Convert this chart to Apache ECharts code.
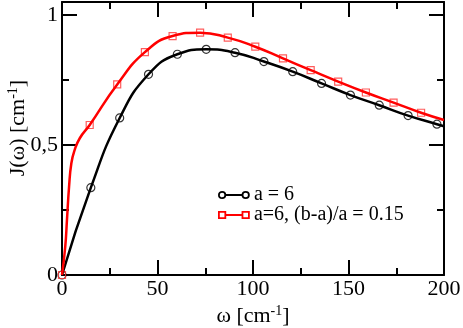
<!DOCTYPE html>
<html lang="en">
<head>
    <meta charset="UTF-8">
    <title>J(omega)</title>
    <script src="https://cdn.jsdelivr.net/npm/echarts@6/dist/echarts.min.js"></script>
    <style>
        html, body { margin: 0; padding: 0; background: #fff; }
        #main { width: 463px; height: 328px; }
    </style>
</head>
<body>
    <div id="main"></div>
<script>
    // x ticks
    var xTicks = [0, 50, 100, 150, 200];
    var yTicks = [0, 0.5, 1];

    // a = 6 : symbols
    var blackMarkW = [0, 15.1, 30.2, 45.3, 60.4, 75.5, 90.6, 105.7, 120.8, 135.9, 151, 166.1, 181.2, 196.3];
    var blackMarkJ = [0, 0.336, 0.604, 0.772, 0.849, 0.868, 0.855, 0.821, 0.782, 0.737, 0.692, 0.653, 0.613, 0.580];
    // a = 6 : line
    var blackLineW = [0, 15.1, 30.2, 45.3, 60.4, 75.5, 90.6, 105.7, 120.8, 135.9, 151, 166.1, 181.2, 196.3, 200];
    var blackLineJ = [0, 0.336, 0.604, 0.772, 0.849, 0.868, 0.855, 0.821, 0.782, 0.737, 0.692, 0.653, 0.613, 0.580, 0.572];

    // a=6, (b-a)/a = 0.15 : symbols
    var redMarkW = [0, 14.5, 28.9, 43.4, 57.9, 72.3, 86.8, 101.2, 115.7, 130.2, 144.6, 159.1, 173.6, 188.0];
    var redMarkJ = [0, 0.577, 0.733, 0.857, 0.919, 0.932, 0.913, 0.878, 0.833, 0.788, 0.744, 0.702, 0.663, 0.624];
    // line
    var redLineW = [0, 1.7, 2.6, 3.7, 4.9, 6.6, 9.3, 14.5, 28.9, 43.4, 57.9, 72.3, 86.8, 101.2, 115.7, 130.2, 144.6, 159.1, 173.6, 188.0, 200];
    var redLineJ = [0, 0.109, 0.212, 0.34, 0.43, 0.48, 0.526, 0.577, 0.733, 0.857, 0.919, 0.932, 0.913, 0.878, 0.833, 0.788, 0.744, 0.702, 0.663, 0.624, 0.596];

    var name1 = 'a = 6';
    var name2 = 'a=6, (b-a)/a = 0.15';
    var xTitle = 'ω [cm{sup|-1}]';
    var yTitle = 'J(ω) [cm{sup|-1}]';

    function pairs(xs, ys) {
        return xs.map(function (x, i) { return [x, ys[i]]; });
    }

    var font = 'Liberation Serif';
    var axCol = '#000';

    // frame axes: line + labels, no ticks
    function xAx(pos, labels) {
        return {
            type: 'value', position: pos, min: xTicks[0], max: xTicks[xTicks.length - 1], interval: 50,
            axisLine: { show: true, onZero: false, lineStyle: { color: axCol, width: 2 } },
            axisTick: { show: false },
            splitLine: { show: false },
            axisLabel: { show: labels, margin: 3, fontFamily: font, fontSize: 22, color: '#000' }
        };
    }
    function yAx(pos, labels) {
        return {
            type: 'value', position: pos, min: 0, max: 1.05, interval: 0.5,
            axisLine: { show: true, onZero: false, lineStyle: { color: axCol, width: 2 } },
            axisTick: { show: false },
            splitLine: { show: false },
            axisLabel: {
                show: labels, margin: 4, fontFamily: font, fontSize: 22, color: '#000',
                formatter: function (v) { return v > 1.001 ? ' ' : String(v).replace('.', ','); }
            }
        };
    }
    // tick-only axes moved into the plot; their outward ticks end on the frame
    function tickAx(pos, min, max, interval, len) {
        return {
            type: 'value', position: pos, offset: -len, min: min, max: max, interval: interval,
            axisLine: { show: false, onZero: false },
            axisTick: { show: true, inside: false, length: len, lineStyle: { color: axCol, width: 2 } },
            splitLine: { show: false },
            axisLabel: { show: false }
        };
    }

    var supRich = { sup: { fontFamily: font, fontSize: 14, verticalAlign: 'top', lineHeight: 24 } };

    var circIcon = 'path://M1,4 A3,3 0 1,1 7,4 A3,3 0 1,1 1,4 Z M7,4 L23,4 M23,4 A3,3 0 1,1 29,4 A3,3 0 1,1 23,4 Z';
    var rectIcon = 'path://M1,1 L7,1 L7,7 L1,7 Z M7,4 L23,4 M23,1 L29,1 L29,7 L23,7 Z';

    var myChart = echarts.init(document.getElementById('main'));
    var option = {
        animation: false,
        grid: { left: 62, right: 19, top: 2, bottom: 53, outerBoundsMode: 'none' },
        xAxis: [
            xAx('bottom', true), xAx('top', false),
            tickAx('bottom', 0, 200, 50, 15), tickAx('bottom', 0, 200, 25, 7),
            tickAx('top', 0, 200, 50, 15), tickAx('top', 0, 200, 25, 7)
        ],
        yAxis: [
            yAx('left', true), yAx('right', false),
            tickAx('left', 0, 1.05, 0.5, 15), tickAx('left', 0, 1.05, 0.25, 7),
            tickAx('right', 0, 1.05, 0.5, 15), tickAx('right', 0, 1.05, 0.25, 7)
        ],
        graphic: [
            {
                type: 'text', x: 253, y: 316,
                style: { text: xTitle, fontFamily: font, fontSize: 22, fill: '#000', lineHeight: 24,
                    align: 'center', verticalAlign: 'middle', rich: supRich }
            },
            {
                type: 'text', x: 18, y: 128, rotation: Math.PI / 2,
                style: { text: yTitle, fontFamily: font, fontSize: 22, fill: '#000', lineHeight: 24,
                    align: 'center', verticalAlign: 'middle', rich: supRich }
            }
        ],
        legend: {
            left: 213, top: 180, orient: 'vertical', itemGap: 0, itemWidth: 30, itemHeight: 8, itemTextGap: 5,
            textStyle: { fontFamily: font, fontSize: 20, color: '#000', lineHeight: 19 },
            data: [
                { name: name1, icon: circIcon, itemStyle: { color: 'transparent', borderColor: '#000', borderWidth: 1.8 } },
                { name: name2, icon: rectIcon, itemStyle: { color: 'transparent', borderColor: '#f00', borderWidth: 1.8 } }
            ]
        },
        series: [
            {
                name: name1, type: 'line', smooth: 0.5, showSymbol: false,
                lineStyle: { color: '#000', width: 2.5 }, itemStyle: { color: '#000' },
                data: pairs(blackLineW, blackLineJ)
            },
            {
                name: name2, type: 'line', smooth: 0.5, showSymbol: false,
                lineStyle: { color: '#f00', width: 2.5 }, itemStyle: { color: '#f00' },
                data: pairs(redLineW, redLineJ)
            },
            {
                type: 'scatter', symbol: 'circle', symbolSize: 8,
                itemStyle: { color: 'rgba(0,0,0,0)', borderColor: '#000', borderWidth: 1.2 },
                data: pairs(blackMarkW, blackMarkJ)
            },
            {
                type: 'scatter', symbol: 'rect', symbolSize: 7,
                itemStyle: { color: 'rgba(0,0,0,0)', borderColor: '#f33', borderWidth: 1.2 },
                data: pairs(redMarkW, redMarkJ)
            }
        ]
    };
    myChart.setOption(option);
</script>
</body>
</html>
